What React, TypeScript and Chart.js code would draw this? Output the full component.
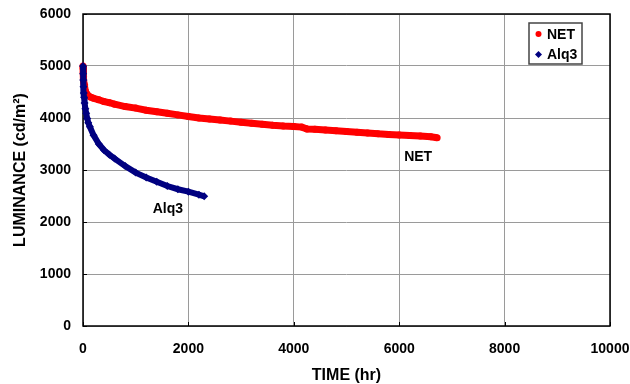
import React, { useEffect, useRef } from "react";
import { Chart, registerables } from "chart.js";

Chart.register(...registerables);

// Luminance decay of the two devices: time in hours, luminance in cd/m²
const netHours = [
  0, 3, 6, 10, 15, 20, 30, 45, 60, 80, 100, 150, 200, 300, 400, 500, 600, 800,
  1000, 1200, 1400, 1600, 1800, 2000, 2200, 2400, 2600, 2800, 3000, 3200, 3400,
  3600, 3800, 4000, 4150, 4250, 4400, 4600, 4800, 5000, 5200, 5400, 5600, 5800,
  6000, 6200, 6400, 6600, 6720,
];
const netLuminance = [
  5000, 4950, 4880, 4800, 4720, 4660, 4590, 4520, 4480, 4450, 4430, 4400, 4380,
  4350, 4315, 4295, 4265, 4220, 4190, 4150, 4120, 4090, 4060, 4030, 4000, 3980,
  3960, 3940, 3920, 3900, 3880, 3860, 3845, 3835, 3825, 3790, 3785, 3770, 3755,
  3740, 3725, 3710, 3695, 3685, 3675, 3665, 3655, 3640, 3620,
];

const alqHours = [
  0, 2, 5, 10, 15, 20, 30, 45, 60, 80, 100, 130, 200, 300, 400, 500, 600, 800,
  1000, 1200, 1400, 1600, 1800, 2000, 2200, 2300,
];
const alqLuminance = [
  5000, 4850, 4730, 4600, 4480, 4400, 4290, 4180, 4090, 3990, 3910, 3830, 3670,
  3500, 3380, 3295, 3220, 3075, 2950, 2855, 2775, 2692, 2630, 2583, 2525, 2495,
];

const seriesNames = ["NET", "Alq3"];
const seriesColors = ["#ff0000", "#000080"];

// In-plot curve labels: [text, hours, luminance]
const curveLabels: [string, number, number][] = [
  ["NET", 6360, 3250],
  ["Alq3", 1610, 2250],
];

const xTicksMax = 10000;
const yTicksMax = 6000;

const FONT = "'Liberation Sans', Arial, sans-serif";

const toPoints = (xs: number[], ys: number[]) =>
  xs.map((x, i) => ({ x, y: ys[i] }));

const frameAndLabels = {
  id: "frameAndLabels",
  beforeDatasetsDraw(chart: any) {
    const { ctx, chartArea, scales } = chart;
    const { left, right, top, bottom } = chartArea;
    ctx.save();
    ctx.strokeStyle = "#000";
    ctx.lineWidth = 1.5;
    ctx.strokeRect(left, top, right - left, bottom - top);
    // short inward tick marks
    ctx.lineWidth = 1;
    scales.x.ticks.forEach((t: any) => {
      const px = Math.round(scales.x.getPixelForValue(t.value)) + 0.5;
      ctx.beginPath();
      ctx.moveTo(px, bottom);
      ctx.lineTo(px, bottom - 4);
      ctx.stroke();
    });
    scales.y.ticks.forEach((t: any) => {
      const py = Math.round(scales.y.getPixelForValue(t.value)) + 0.5;
      ctx.beginPath();
      ctx.moveTo(left, py);
      ctx.lineTo(left + 4, py);
      ctx.stroke();
    });
    ctx.restore();
  },
  afterDraw(chart: any) {
    const { ctx, chartArea, scales } = chart;
    ctx.save();
    ctx.font = `bold 14px ${FONT}`;
    ctx.fillStyle = "#000";
    ctx.textAlign = "center";
    ctx.textBaseline = "middle";
    curveLabels.forEach(([text, h, l]) => {
      ctx.fillText(text, scales.x.getPixelForValue(h), scales.y.getPixelForValue(l));
    });

    // legend box
    const x0 = chartArea.right - 81;
    const y0 = chartArea.top + 9;
    ctx.fillStyle = "#fff";
    ctx.fillRect(x0, y0, 53, 41);
    ctx.strokeStyle = "#444";
    ctx.lineWidth = 1.5;
    ctx.strokeRect(x0, y0, 53, 41);
    ctx.textAlign = "left";
    seriesNames.forEach((name, i) => {
      const cy = y0 + 11 + i * 20.5;
      const mx = x0 + 9.5;
      ctx.fillStyle = seriesColors[i];
      ctx.beginPath();
      if (i === 0) {
        ctx.arc(mx, cy, 3, 0, Math.PI * 2);
      } else {
        ctx.moveTo(mx, cy - 3.5);
        ctx.lineTo(mx + 3.5, cy);
        ctx.lineTo(mx, cy + 3.5);
        ctx.lineTo(mx - 3.5, cy);
        ctx.closePath();
      }
      ctx.fill();
      ctx.fillStyle = "#000";
      ctx.fillText(name, x0 + 18, cy + 1);
    });
    ctx.restore();
  },
};

export default function App() {
  const canvasRef = useRef<HTMLCanvasElement | null>(null);

  useEffect(() => {
    if (!canvasRef.current) return;
    const chart = new Chart(canvasRef.current, {
      type: "scatter",
      data: {
        datasets: [
          {
            label: seriesNames[0],
            data: toPoints(netHours, netLuminance),
            showLine: true,
            borderColor: seriesColors[0],
            backgroundColor: seriesColors[0],
            borderWidth: 7,
            pointStyle: "circle",
            pointRadius: 3.5,
            pointBorderWidth: 0,
            clip: false,
            order: 2,
          },
          {
            label: seriesNames[1],
            data: toPoints(alqHours, alqLuminance),
            showLine: true,
            borderColor: seriesColors[1],
            backgroundColor: seriesColors[1],
            borderWidth: 6,
            pointStyle: "rectRot",
            pointRadius: 4,
            pointBorderWidth: 0,
            clip: false,
            order: 1,
          },
        ],
      },
      options: {
        responsive: false,
        animation: false,
        layout: { padding: { top: 14, right: 20, left: 0, bottom: 0 } },
        plugins: {
          legend: { display: false },
          tooltip: { enabled: false },
        },
        scales: {
          x: {
            type: "linear",
            min: 0,
            max: xTicksMax,
            ticks: {
              stepSize: 2000,
              color: "#000",
              font: { family: FONT, size: 14, weight: "bold" },
              padding: 15,
              maxRotation: 0,
              callback: (v: any) => String(v),
            },
            grid: { color: "#9a9a9a", lineWidth: 1, drawTicks: false },
            border: { display: false },
            title: {
              display: true,
              text: "TIME (hr)",
              color: "#000",
              font: { family: FONT, size: 16, weight: "bold", lineHeight: 1 },
              padding: { top: 0, bottom: 0 },
            },
            afterFit: (s: any) => {
              s.height = 58;
              s.paddingLeft = 0;
              s.paddingRight = 0;
            },
          },
          y: {
            type: "linear",
            min: 0,
            max: yTicksMax,
            ticks: {
              stepSize: 1000,
              color: "#000",
              font: { family: FONT, size: 14, weight: "bold" },
              padding: 12,
              callback: (v: any) => String(v),
            },
            grid: { color: "#9a9a9a", lineWidth: 1, drawTicks: false },
            border: { display: false },
            title: {
              display: true,
              text: "LUMINANCE (cd/m²)",
              color: "#000",
              font: { family: FONT, size: 16, weight: "bold", lineHeight: 1 },
              padding: { top: 13, bottom: 0 },
            },
            afterFit: (s: any) => {
              s.width = 83;
              s.paddingTop = 0;
              s.paddingBottom = 0;
            },
          },
        },
      },
      plugins: [frameAndLabels],
    });
    return () => chart.destroy();
  }, []);

  return (
    <div style={{ position: "absolute", left: 0, top: 0, width: 630, height: 384, background: "#fff" }}>
      <canvas ref={canvasRef} width={630} height={384} />
    </div>
  );
}
